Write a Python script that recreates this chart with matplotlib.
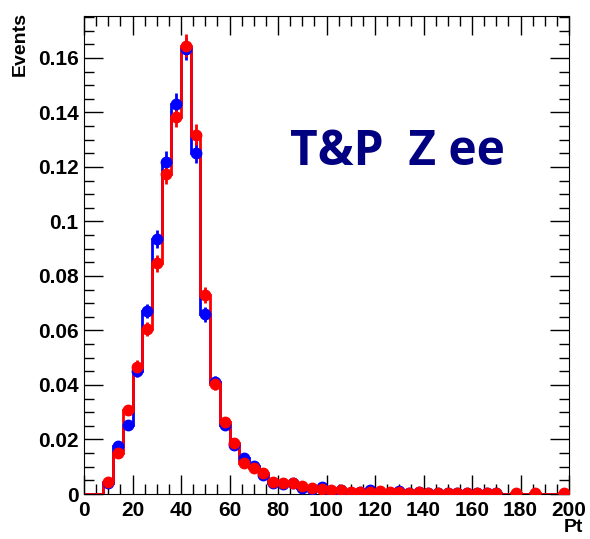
import numpy as np
import matplotlib
matplotlib.use("Agg")
import matplotlib.pyplot as plt
from matplotlib.ticker import MultipleLocator

# 50 bins of 4 GeV from 0 to 200, contents normalised to unit area
edges = np.arange(0, 204, 4)

blue_vals = [0, 0, 0.0041, 0.0176, 0.0253, 0.0453, 0.0672, 0.0936, 0.1220, 0.1431,
             0.1633, 0.1253, 0.0659, 0.0412, 0.0253, 0.0180, 0.0131, 0.0104, 0.0070, 0.0042,
             0.0037, 0.0042, 0.0022, 0.0020, 0.0026, 0.0008, 0.0013, 0.0005, 0.0006, 0.0015,
             0.0008, 0.0003, 0.0010, 0.0005, 0.0008, 0.0003, 0.0004, 0.0003, 0.0004, 0.0002,
             0.0002, 0.0002, 0.0002, 0, 0, 0, 0, 0, 0, 0]
blue_errs = [0, 0, 0.0007, 0.0014, 0.0017, 0.0022, 0.0027, 0.0032, 0.0037, 0.0040,
             0.0042, 0.0037, 0.0027, 0.0021, 0.0017, 0.0014, 0.0012, 0.0011, 0.0009, 0.0007,
             0.0006, 0.0007, 0.0005, 0.0005, 0.0005, 0.0003, 0.0004, 0.0002, 0.0003, 0.0004,
             0.0003, 0.0002, 0.0003, 0.0002, 0.0003, 0.0002, 0.0002, 0.0002, 0.0002, 0.0001,
             0.0001, 0.0001, 0.0001, 0, 0, 0, 0, 0, 0, 0]

red_vals = [0, 0, 0.0045, 0.0149, 0.0308, 0.0467, 0.0605, 0.0847, 0.1173, 0.1385,
            0.1645, 0.1318, 0.0730, 0.0403, 0.0265, 0.0188, 0.0115, 0.0094, 0.0076, 0.0045,
            0.0039, 0.0042, 0.0029, 0.0023, 0.0017, 0.0015, 0.0015, 0.0008, 0.0006, 0.0006,
            0.0010, 0.0007, 0.0008, 0.0005, 0.0006, 0.0002, 0.0004, 0.0004, 0.0003, 0.0002,
            0.0002, 0.0002, 0.0003, 0, 0.0002, 0, 0.0002, 0, 0, 0.0002]
red_errs = [0, 0, 0.0007, 0.0013, 0.0018, 0.0023, 0.0026, 0.0031, 0.0036, 0.0039,
            0.0043, 0.0038, 0.0028, 0.0021, 0.0017, 0.0014, 0.0011, 0.0010, 0.0009, 0.0007,
            0.0006, 0.0007, 0.0006, 0.0005, 0.0004, 0.0004, 0.0004, 0.0003, 0.0003, 0.0003,
            0.0003, 0.0003, 0.0003, 0.0002, 0.0003, 0.0001, 0.0002, 0.0002, 0.0002, 0.0001,
            0.0001, 0.0001, 0.0002, 0, 0.0001, 0, 0.0001, 0, 0, 0.0001]

centers = 0.5 * (edges[:-1] + edges[1:])

plt.rcParams['font.family'] = ['Liberation Sans', 'DejaVu Sans']

fig = plt.figure(figsize=(5.9, 5.39), dpi=100)
ax = fig.add_axes([84 / 590, 45 / 539, 485 / 590, 478 / 539])


def draw_hist(vals, errs, color):
    vals = np.asarray(vals)
    errs = np.asarray(errs)
    ax.stairs(vals, edges, color=color, lw=2, baseline=0, zorder=2)
    nz = vals > 0
    ax.errorbar(centers[nz], vals[nz], yerr=errs[nz], fmt='o', color=color,
                ms=7.5, elinewidth=2, capsize=0, zorder=3)


draw_hist(blue_vals, blue_errs, 'blue')
draw_hist(red_vals, red_errs, 'red')

ax.set_xlim(0, 200)
ax.set_ylim(0, 0.1754)

ax.xaxis.set_major_locator(MultipleLocator(20))
ax.xaxis.set_minor_locator(MultipleLocator(5))
ax.yaxis.set_major_locator(MultipleLocator(0.02))
ax.yaxis.set_minor_locator(MultipleLocator(0.005))
ax.yaxis.set_major_formatter(plt.FuncFormatter(lambda v, p: f"{v:g}"))

ax.tick_params(which='both', direction='in', top=True, right=True,
               labelsize=15, width=1)
ax.tick_params(which='major', length=14)
ax.tick_params(which='minor', length=7)
ax.tick_params(axis='y', pad=4)
ax.tick_params(axis='x', pad=5)
for lab in ax.get_xticklabels() + ax.get_yticklabels():
    lab.set_fontweight('bold')

ax.text(-0.132, 1.008, 'Events', transform=ax.transAxes, rotation=90,
        ha='center', va='top', fontsize=14, fontweight='bold')
ax.text(1.029, -0.071, 'Pt', transform=ax.transAxes, ha='right',
        va='center', fontsize=14, fontweight='bold')

ax.text(85, 0.1207, 'T&P  Z ee', color='#000080', fontsize=34.5,
        fontweight='bold', family=['Open Sans', 'DejaVu Sans'])

fig.savefig('out.png', dpi=100)
